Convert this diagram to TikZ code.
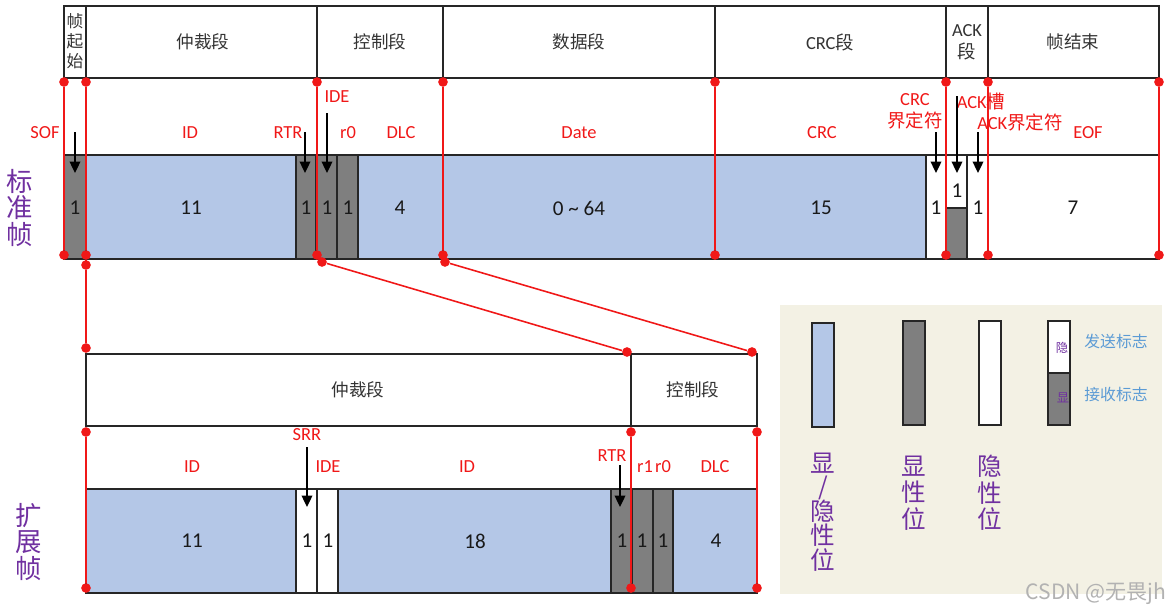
\documentclass[tikz,border=0pt]{standalone}
\usepackage{fontspec}
\setmainfont{Carlito}
\newfontfamily\cjk{Noto Sans CJK SC}
\usetikzlibrary{arrows.meta}

\definecolor{bitblue}{HTML}{B4C7E7}
\definecolor{bitgray}{HTML}{7F7F7F}
\definecolor{redline}{HTML}{F01818}
\definecolor{framepurple}{HTML}{7030A0}
\definecolor{legendbg}{HTML}{F3F1E4}
\definecolor{legendblue}{HTML}{5B9BD5}

\begin{document}
\begin{tikzpicture}[
    x=0.02cm, y=-0.02cm,
    box/.style={draw=black!85, line width=0.9pt},
    rdot/.style={circle, fill=redline, inner sep=0pt, minimum size=5.5pt}, % red joint dots
    rline/.style={draw=redline, line width=0.9pt},
    barrow/.style={-{Triangle[length=6.5pt,width=6pt]}, line width=1.1pt},
    seg/.style={font=\cjk\fontsize{10}{12}\selectfont, text=black!80, align=center},
    fld/.style={font=\fontsize{10.5}{12.5}\selectfont, text=redline, align=center},
    bit/.style={font=\fontsize{12}{13}\selectfont, text=black!90},
    side/.style={font=\cjk\fontsize{15}{15}\selectfont, text=framepurple, align=center},
]
    \useasboundingbox (0,0) rectangle (1170,613);

    % --- STANDARD FRAME (header row) ---
    \draw[box] (64,6) rectangle (86,78);
    \draw[box] (86,6) rectangle (317,78);
    \draw[box] (317,6) rectangle (443,78);
    \draw[box] (443,6) rectangle (715,78);
    \draw[box] (715,6) rectangle (946,78);
    \draw[box] (946,6) rectangle (988,78);
    \draw[box] (988,6) rectangle (1159,78);

    \node[seg, font=\cjk\fontsize{9.5}{11.5}\selectfont] (hsof) at (75,41) {帧\\起\\始};
    \node[seg] (harb) at (203,42) {仲裁段};
    \node[seg] (hctl) at (380,42) {控制段};
    \node[seg] (hdat) at (579,42) {数据段};
    \node[seg, font=\fontsize{10.5}{12}\selectfont] (hcrc) at (830,42) {CRC{\cjk 段}};
    \node[seg, font=\fontsize{10.5}{12.5}\selectfont] (hack) at (967,42) {ACK\\{\cjk 段}};
    \node[seg] (heof) at (1073,42) {帧结束};

    % --- STANDARD FRAME (bit row) ---
    \draw[box, fill=bitgray] (64,155) rectangle (86,259);
    \draw[box, fill=bitblue] (86,155) rectangle (296,259);
    \draw[box, fill=bitgray] (296,155) rectangle (316,259);
    \draw[box, fill=bitgray] (316,155) rectangle (337,259);
    \draw[box, fill=bitgray] (337,155) rectangle (358,259);
    \draw[box, fill=bitblue] (358,155) rectangle (443,259);
    \draw[box, fill=bitblue] (443,155) rectangle (715,259);
    \draw[box, fill=bitblue] (715,155) rectangle (926,259);
    \draw[box, fill=white] (926,155) rectangle (946,259);
    \draw[box, fill=white] (946,155) rectangle (967,208);
    \draw[box, fill=bitgray] (946,208) rectangle (967,259);
    \draw[box, fill=white] (967,155) rectangle (988,259);
    \draw[box, fill=white] (988,155) rectangle (1159,259);

    \node[bit] (bsof) at (75,208) {1};
    \node[bit] (bid) at (191,208) {11};
    \node[bit] (brtr) at (306,208) {1};
    \node[bit] (bide) at (327,208) {1};
    \node[bit] (br0) at (348,208) {1};
    \node[bit] (bdlc) at (400,208) {4};
    \node[bit] (bdat) at (579,208) {0 \char`\~{} 64};
    \node[bit] (bcrc) at (821,208) {15};
    \node[bit] (bcdl) at (936,208) {1};
    \node[bit] (back) at (957,191) {1};
    \node[bit] (badl) at (978,208) {1};
    \node[bit] (beof) at (1073,208) {7};

    % field names
    \node[fld] (fsof) at (45,133) {SOF};
    \node[fld] (fid) at (190,133) {ID};
    \node[fld] (frtr) at (288,133) {RTR};
    \node[fld] (fide) at (337,97) {IDE};
    \node[fld] (fr0) at (348,133) {r0};
    \node[fld] (fdlc) at (401,133) {DLC};
    \node[fld] (fdat) at (579,133) {Date};
    \node[fld] (fcrc) at (822,133) {CRC};
    \node[fld, font=\fontsize{10.5}{12.5}\selectfont] (fcdl) at (915,111) {CRC\\{\cjk 界定符}};
    \node[fld] (fack) at (981,102) {ACK{\cjk 槽}};
    \node[fld] (fadl) at (1020,122) {ACK{\cjk 界定符}};
    \node[fld] (feof) at (1088,133) {EOF};

    % pointer arrows
    \coordinate (aSOF) at (75,132);  \coordinate (bSOF) at (75,173);
    \coordinate (aRTR) at (305,132); \coordinate (bRTR) at (305,173);
    \coordinate (aIDE) at (327,113); \coordinate (bIDE) at (327,173);
    \coordinate (aCDL) at (936,132); \coordinate (bCDL) at (936,173);
    \coordinate (aACK) at (957,96);  \coordinate (bACK) at (957,173);
    \coordinate (aADL) at (978,132); \coordinate (bADL) at (978,173);
    \draw[barrow] (aSOF) -- (bSOF);
    \draw[barrow] (aRTR) -- (bRTR);
    \draw[barrow] (aIDE) -- (bIDE);
    \draw[barrow] (aCDL) -- (bCDL);
    \draw[barrow] (aACK) -- (bACK);
    \draw[barrow] (aADL) -- (bADL);

    % red boundary lines
    \foreach \x [count=\i] in {64,86,317,443,715,946,988,1159} {
        \node[rdot] (st\i) at (\x,82) {};
        \node[rdot] (sb\i) at (\x,255) {};
        \draw[rline] (st\i) -- (sb\i);
    }

    % --- EXTENDED FRAME (header row) ---
    \draw[box] (86,354) rectangle (631,426);
    \draw[box] (631,354) rectangle (757,426);
    \node[seg] (xarb) at (358,390) {仲裁段};
    \node[seg] (xctl) at (693,390) {控制段};

    % --- EXTENDED FRAME (bit row) ---
    \draw[box, fill=bitblue] (86,489) rectangle (296,593);
    \draw[box, fill=white] (296,489) rectangle (317,593);
    \draw[box, fill=white] (317,489) rectangle (338,593);
    \draw[box, fill=bitblue] (338,489) rectangle (611,593);
    \draw[box, fill=bitgray] (611,489) rectangle (632,593);
    \draw[box, fill=bitgray] (632,489) rectangle (653,593);
    \draw[box, fill=bitgray] (653,489) rectangle (673,593);
    \draw[box, fill=bitblue] (673,489) rectangle (757,593);

    \node[bit] (eid) at (192,541) {11};
    \node[bit] (esrr) at (307,541) {1};
    \node[bit] (eide) at (328,541) {1};
    \node[bit] (eidx) at (475,541) {18};
    \node[bit] (ertr) at (622,541) {1};
    \node[bit] (er1) at (642,541) {1};
    \node[bit] (er0) at (663,541) {1};
    \node[bit] (edlc) at (716,541) {4};

    \node[fld] (gsrr) at (307,435) {SRR};
    \node[fld] (gid) at (192,467) {ID};
    \node[fld] (gide) at (328,467) {IDE};
    \node[fld] (gidx) at (467,467) {ID};
    \node[fld] (grtr) at (612,456) {RTR};
    \node[fld] (gr1) at (645,467) {r1};
    \node[fld] (gr0) at (663,467) {r0};
    \node[fld] (gdlc) at (715,467) {DLC};

    \coordinate (aSRR) at (307,447); \coordinate (bSRR) at (307,507);
    \coordinate (aXRT) at (620,465); \coordinate (bXRT) at (620,507);
    \draw[barrow] (aSRR) -- (bSRR);
    \draw[barrow] (aXRT) -- (bXRT);

    % red lines linking both frames
    \node[rdot] (sx1) at (86,265) {};
    \node[rdot] (sx2) at (322,262) {};
    \node[rdot] (sx3) at (445,262) {};
    \node[rdot] (et1) at (86,348) {};
    \node[rdot] (et2) at (627,352) {};
    \node[rdot] (et3) at (752,352) {};
    \draw[rline] (sb2) -- (sx1) -- (et1);
    \draw[rline] (sx2) -- (et2);
    \draw[rline] (sx3) -- (et3);

    \foreach \x [count=\i] in {86,631,757} {
        \node[rdot] (eu\i) at (\x,432) {};
        \node[rdot] (eb\i) at (\x,588) {};
        \draw[rline] (eu\i) -- (eb\i);
    }

    % frame names
    \node[side] (nstd) at (20,208) {标\\准\\帧};
    \node[side] (next) at (29,542) {扩\\展\\帧};

    % --- LEGEND ---
    \fill[legendbg] (780,305) rectangle (1162,594);
    \draw[box, fill=bitblue] (812,323) rectangle (834,427);
    \draw[box, fill=bitgray] (903,321) rectangle (925,425);
    \draw[box, fill=white] (979,321) rectangle (1001,425);
    \draw[box, fill=white] (1048,321) rectangle (1070,373);
    \draw[box, fill=bitgray] (1048,373) rectangle (1070,425);

    \node[text=framepurple, font=\cjk\fontsize{7}{8}\selectfont] (lhid) at (1062,348) {隐};
    \node[text=framepurple, font=\cjk\fontsize{7}{8}\selectfont] (lshw) at (1063,398) {显};
    \node[text=legendblue, font=\cjk\fontsize{9}{10}\selectfont] (lsnd) at (1116,341) {发送标志};
    \node[text=legendblue, font=\cjk\fontsize{9}{10}\selectfont] (lrcv) at (1116,394) {接收标志};

    \node[side, font=\cjk\fontsize{14}{14}\selectfont] (lboth) at (823,512) {显\\[-1pt]/\\[-1pt]隐\\性\\位};
    \node[side, font=\cjk\fontsize{14}{15}\selectfont] (ldom) at (914,493) {显\\性\\位};
    \node[side, font=\cjk\fontsize{14}{15}\selectfont] (lrec) at (990,493) {隐\\性\\位};

    \node[text=black!30, font=\cjk\fontsize{12}{14}\selectfont] (wmark) at (1096,594) {CSDN @无畏jh};

\end{tikzpicture}
\end{document}
